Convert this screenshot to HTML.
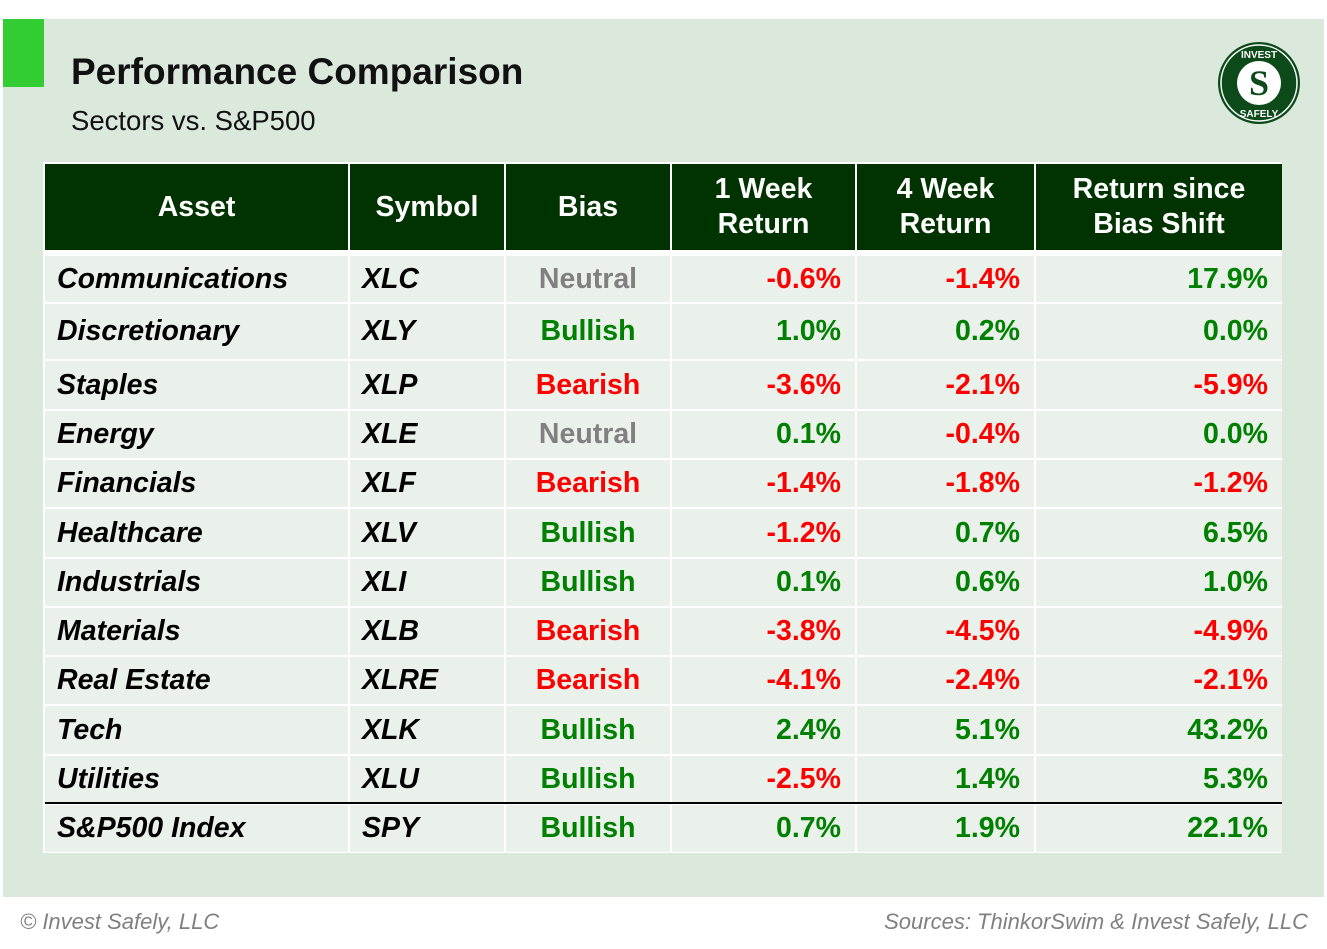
<!DOCTYPE html>
<html><head><meta charset="utf-8"><style>
*{margin:0;padding:0;box-sizing:border-box}
body{width:1327px;height:949px;background:#fff;position:relative;overflow:hidden;font-family:"Liberation Sans",Arial,sans-serif}
.panel{position:absolute;left:3px;top:19px;width:1321px;height:878px;background:#dbe8dc}
.sq{position:absolute;left:3px;top:19px;width:41px;height:68px;background:#33cc33}
.title{position:absolute;left:71px;top:51px;font-size:37px;font-weight:bold;color:#111}
.sub{position:absolute;left:71px;top:105px;font-size:27.5px;color:#111}
.tbl{position:absolute;left:43px;top:162px;width:1239px;height:691px;background:#fff}
.c{position:absolute;display:flex;align-items:center;font-weight:bold;font-size:28.5px}
.h{background:#003300;color:#fff;justify-content:center;text-align:center;line-height:35px}
.d{background:#eaf1ea}
.l{justify-content:flex-start;padding-left:12px;font-style:italic;color:#000}
.m{justify-content:center}
.r{justify-content:flex-end;padding-right:14px}
.g{color:#008000}.rd{color:#ff0000}.n{color:#808080}
.foot{position:absolute;top:909px;font-size:22px;font-style:italic;color:#808080}
</style></head><body>
<div class="panel"></div><div class="sq"></div>
<div class="title">Performance Comparison</div>
<div class="sub">Sectors vs. S&amp;P500</div>
<svg style="position:absolute;left:1217px;top:41px" width="84" height="84" viewBox="0 0 84 84">
<circle cx="42" cy="42" r="41" fill="#0d4a1a"/><circle cx="42" cy="42" r="38" fill="none" stroke="#fff" stroke-width="1.5"/>
<circle cx="42" cy="42" r="22" fill="#fff"/>
<text x="42" y="54" text-anchor="middle" font-family="Liberation Serif" font-weight="bold" font-size="36" fill="#0d4a1a">S</text>
<text x="42" y="17" text-anchor="middle" font-family="Liberation Sans" font-weight="bold" font-size="10" fill="#fff">INVEST</text>
<text x="42" y="76" text-anchor="middle" font-family="Liberation Sans" font-weight="bold" font-size="10" fill="#fff">SAFELY</text>
</svg>
<div class="tbl">
<div id="t"></div>
</div>
<div class="foot" style="left:20px">© Invest Safely, LLC</div>
<div class="foot" style="right:19px">Sources: ThinkorSwim &amp; Invest Safely, LLC</div>
<script>
const cols=[[0,305],[305,156],[461,166],[627,185],[812,179],[991,248]];
const lines=[92,140,197,247,296,345,395,444,493,542,592,641,690];
const rows=[
["Communications","XLC","Neutral","-0.6%","-1.4%","17.9%"],
["Discretionary","XLY","Bullish","1.0%","0.2%","0.0%"],
["Staples","XLP","Bearish","-3.6%","-2.1%","-5.9%"],
["Energy","XLE","Neutral","0.1%","-0.4%","0.0%"],
["Financials","XLF","Bearish","-1.4%","-1.8%","-1.2%"],
["Healthcare","XLV","Bullish","-1.2%","0.7%","6.5%"],
["Industrials","XLI","Bullish","0.1%","0.6%","1.0%"],
["Materials","XLB","Bearish","-3.8%","-4.5%","-4.9%"],
["Real Estate","XLRE","Bearish","-4.1%","-2.4%","-2.1%"],
["Tech","XLK","Bullish","2.4%","5.1%","43.2%"],
["Utilities","XLU","Bullish","-2.5%","1.4%","5.3%"],
["S&amp;P500 Index","SPY","Bullish","0.7%","1.9%","22.1%"]];
const hdr=["Asset","Symbol","Bias","1 Week<br>Return","4 Week<br>Return","Return since<br>Bias Shift"];
let s="";
hdr.forEach((h,i)=>{s+=`<div class="c h" style="left:${cols[i][0]+2}px;top:2px;width:${cols[i][1]-2}px;height:86px">${h}</div>`});
rows.forEach((r,j)=>{const top=lines[j]+2,h=lines[j+1]-lines[j]-2;
r.forEach((v,i)=>{let cl="d ";
if(i<2)cl+="l";else if(i==2)cl+="m "+(v=="Bullish"?"g":v=="Bearish"?"rd":"n");else cl+="r "+(v[0]=="-"?"rd":"g");
s+=`<div class="c ${cl}" style="left:${cols[i][0]+2}px;top:${top}px;width:${cols[i][1]-2}px;height:${h}px">${v}</div>`});});
s+=`<div style="position:absolute;left:2px;top:640px;width:1237px;height:2px;background:#000"></div>`;
document.getElementById("t").innerHTML=s;
</script>
</body></html>
